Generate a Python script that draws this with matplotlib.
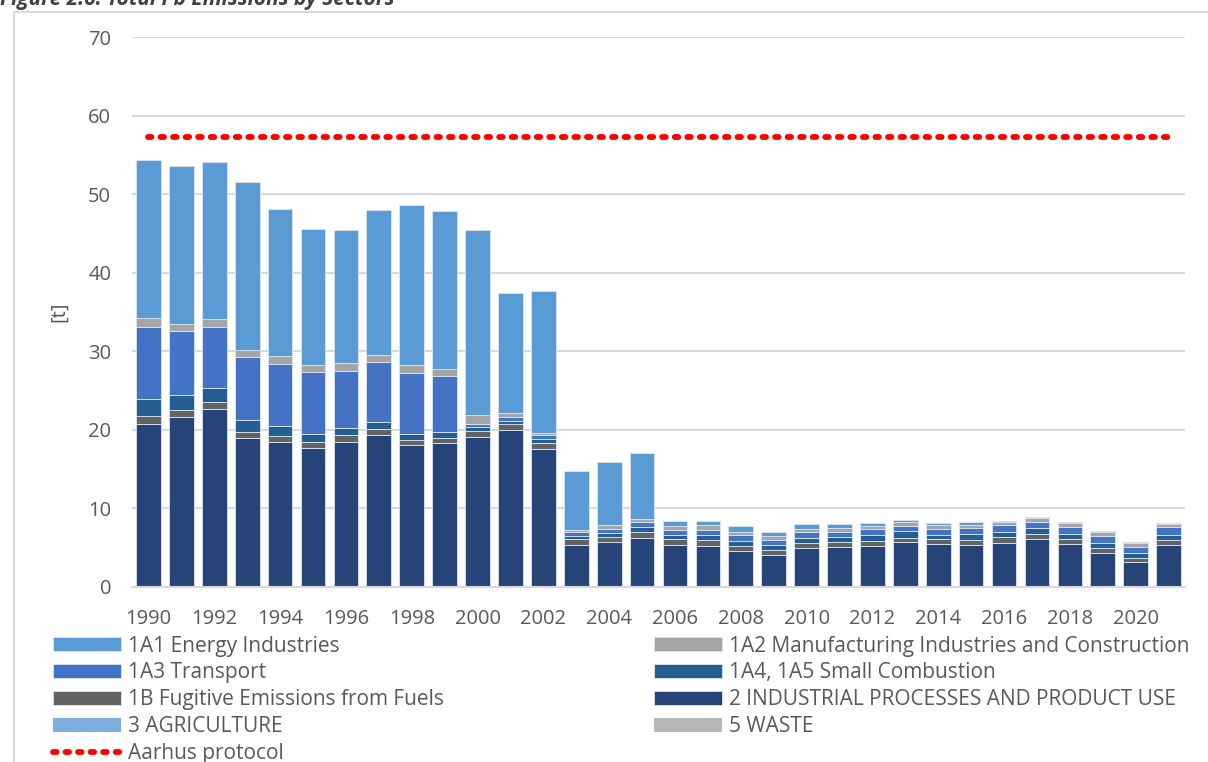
import numpy as np
import matplotlib
matplotlib.use("Agg")
import matplotlib.pyplot as plt
from matplotlib.patches import Rectangle

plt.rcParams['font.family'] = ['Open Sans', 'DejaVu Sans']

years = list(range(1990, 2022))

# stacked from bottom to top
industrial = [20.8, 21.6, 22.7, 18.9, 18.5, 17.7, 18.5, 19.4, 18.1, 18.3, 19.1, 20.0, 17.6,
              5.40, 5.73, 6.28, 5.40, 5.22, 4.58, 4.12, 4.96, 5.09, 5.27, 5.73, 5.52, 5.40,
              5.65, 6.11, 5.52, 4.38, 3.23, 5.40]
fugitive = [0.9, 0.9, 0.8, 0.8, 0.7, 0.8, 0.8, 0.7, 0.6, 0.6, 0.7, 0.7, 0.7,
            0.70, 0.63, 0.77, 0.70, 0.72, 0.69, 0.64, 0.60, 0.60, 0.55, 0.55, 0.55, 0.63,
            0.68, 0.60, 0.59, 0.58, 0.51, 0.63]
small_comb = [2.2, 1.9, 1.8, 1.5, 1.3, 1.0, 0.9, 0.9, 0.8, 0.8, 0.6, 0.4, 0.5,
              0.40, 0.50, 0.59, 0.50, 0.73, 0.63, 0.64, 0.72, 0.72, 0.85, 0.85, 0.60, 0.77,
              0.67, 0.85, 0.69, 0.69, 0.64, 0.64]
transport = [9.2, 8.2, 7.8, 8.1, 7.9, 7.9, 7.3, 7.6, 7.7, 7.2, 0.4, 0.5, 0.5,
             0.45, 0.56, 0.59, 0.60, 0.63, 0.68, 0.63, 0.72, 0.64, 0.67, 0.68, 0.71, 0.71,
             0.89, 0.71, 0.89, 0.89, 0.71, 0.93]
manufacturing = [1.1, 0.9, 1.0, 0.9, 1.0, 0.9, 1.0, 0.9, 1.0, 0.9, 1.1, 0.5, 0.3,
                 0.35, 0.47, 0.42, 0.50, 0.55, 0.47, 0.47, 0.34, 0.42, 0.42, 0.42, 0.47, 0.43,
                 0.43, 0.56, 0.46, 0.51, 0.56, 0.47]
energy = [20.1, 20.1, 20.0, 21.3, 18.7, 17.3, 17.0, 18.5, 20.4, 20.0, 23.6, 15.3, 18.1,
          7.45, 8.00, 8.45, 0.75, 0.60, 0.71, 0.55, 0.73, 0.51, 0.34, 0.34, 0.25, 0.38,
          0.13, 0.13, 0.08, 0.02, 0.08, 0.04]
agriculture = [0.0] * 32
waste = [0.0] * 32
aarhus = [57.3] * 32

series = [
    ('2 INDUSTRIAL PROCESSES AND PRODUCT USE', industrial, '#264478'),
    ('1B Fugitive Emissions from Fuels', fugitive, '#636363'),
    ('1A4, 1A5 Small Combustion', small_comb, '#255E91'),
    ('1A3 Transport', transport, '#4472C4'),
    ('1A2 Manufacturing Industries and Construction', manufacturing, '#A5A5A5'),
    ('1A1 Energy Industries', energy, '#5B9BD5'),
    ('3 AGRICULTURE', agriculture, '#7CAFDD'),
    ('5 WASTE', waste, '#B7B7B7'),
]

fig = plt.figure(figsize=(12.08, 7.62), dpi=100)
ax = fig.add_axes([0.1093, 0.2297, 0.8717, 0.7217])

x = np.arange(len(years))
bottom = np.zeros(len(years))
handles = {}
for name, vals, col in series:
    lw = 0.6 if max(vals) > 0.1 else 0
    b = ax.bar(x, vals, 0.75, bottom=bottom, color=col, edgecolor='#dbe6f3',
               linewidth=lw, label=name, zorder=2)
    handles[name] = b
    bottom += np.array(vals)

line, = ax.plot(x, aarhus, color='#ff0000', linestyle=(0, (0.6, 1.55)),
                linewidth=4.2, dash_capstyle='round', zorder=3)

ax.set_xlim(-0.5, 31.5)
ax.set_ylim(0, 70)
ax.set_yticks(range(0, 71, 10))
ax.set_xticks(x[::2])
ax.set_xticklabels([str(y) for y in years[::2]])
ax.grid(axis='y', color='#d9d9d9', linewidth=1.5, zorder=0)
ax.set_axisbelow(True)
for s in ['top', 'right', 'left']:
    ax.spines[s].set_visible(False)
ax.spines['bottom'].set_color('#d9d9d9')
ax.spines['bottom'].set_linewidth(1.5)
ax.tick_params(axis='both', length=0, colors='#595959', labelsize=14.5)
ax.tick_params(axis='y', pad=15)
ax.tick_params(axis='x', pad=16)
ax.set_ylabel('[t]', color='#595959', fontsize=14.5, labelpad=14)

order = ['1A1 Energy Industries', '1A3 Transport', '1B Fugitive Emissions from Fuels',
         '3 AGRICULTURE', None,
         '1A2 Manufacturing Industries and Construction', '1A4, 1A5 Small Combustion',
         '2 INDUSTRIAL PROCESSES AND PRODUCT USE', '5 WASTE']
hs, ls = [], []
for n in order:
    if n is None:
        hs.append(line)
        ls.append('Aarhus protocol')
    else:
        hs.append(handles[n])
        ls.append(n)
leg = fig.legend(hs, ls, ncol=2, loc='upper left', bbox_to_anchor=(0.0436, 0.166),
                 frameon=False, fontsize=15, handlelength=3.27, handleheight=0.64,
                 handletextpad=0.34, labelspacing=0.28, columnspacing=10.1,
                 borderpad=0, borderaxespad=0)
for t in leg.get_texts():
    t.set_color('#595959')

fig.text(0.0, 1.0 - 5 / 762, 'Figure 2.6: Total Pb Emissions by Sectors', fontsize=15,
         fontweight='bold', fontstyle='italic', color='#404040', va='baseline', ha='left')
fig.patches.append(Rectangle((14 / 1208, -0.01), 1.0, 1 - 12 / 762 + 0.01,
                             transform=fig.transFigure, fill=False,
                             edgecolor='#d9d9d9', linewidth=1.5))

fig.savefig('out.png', dpi=100)
